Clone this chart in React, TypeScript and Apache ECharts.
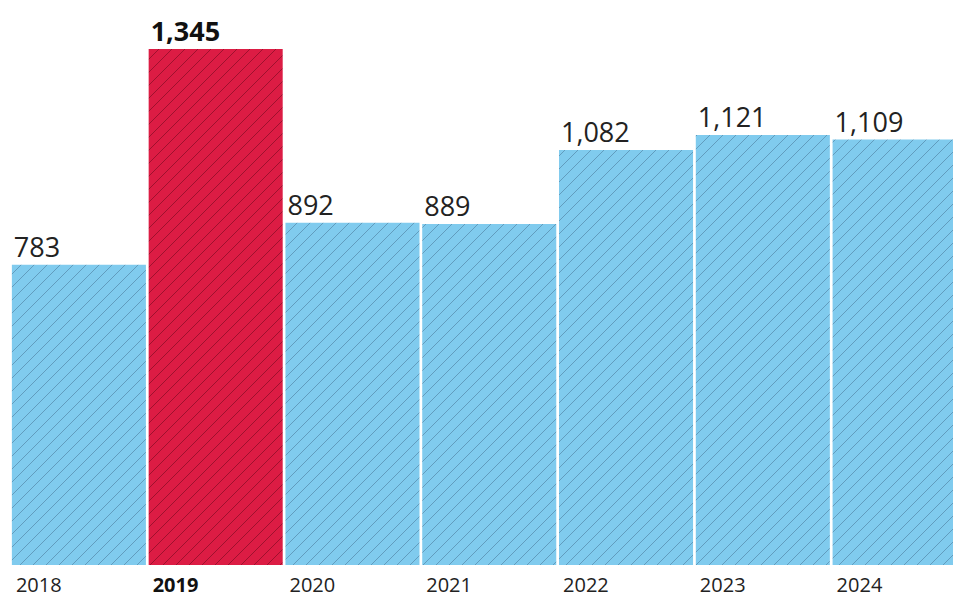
import React, { useEffect, useRef } from "react";
import * as echarts from "echarts";

const categories = ["2018", "2019", "2020", "2021", "2022", "2023", "2024"];
const values = [783, 1345, 892, 889, 1082, 1121, 1109];
const highlightIndex = 1;

function makePattern(base: string, line: string) {
  const s = 13;
  const c = document.createElement("canvas");
  c.width = s;
  c.height = s;
  const ctx = c.getContext("2d")!;
  ctx.fillStyle = base;
  ctx.fillRect(0, 0, s, s);
  ctx.strokeStyle = line;
  ctx.lineWidth = 1;
  ctx.beginPath();
  for (const o of [-s, 0, s]) {
    ctx.moveTo(o - 1, s + 1);
    ctx.lineTo(o + s + 1, -1);
  }
  ctx.stroke();
  return { image: c, repeat: "repeat" as const };
}

export default function App() {
  const ref = useRef<HTMLDivElement>(null);
  useEffect(() => {
    if (!ref.current) return;
    const chart = echarts.init(ref.current, null, { renderer: "svg" });
    const blue = makePattern("#80cbee", "rgba(30,60,90,0.32)");
    const red = makePattern("#dc1c44", "rgba(60,0,10,0.38)");
    const font = "'Open Sans', 'Noto Sans', sans-serif";
    chart.setOption({
      animation: false,
      grid: { left: 10.5, top: 28, right: 2, bottom: 34 },
      xAxis: {
        type: "category",
        data: categories,
        axisLine: { show: false },
        axisTick: { show: false },
        axisLabel: {
          align: "left",
          margin: 9,
          padding: [0, 0, 0, -63],
          fontFamily: font,
          fontSize: 20,
          color: "#222",
          formatter: (v: string, i: number) =>
            i === highlightIndex ? `{b|${v}}` : v,
          rich: {
            b: { fontFamily: font, fontSize: 20, fontWeight: "bold", color: "#111" },
          },
        },
      },
      yAxis: {
        type: "value",
        min: 0,
        max: 1400,
        show: false,
        splitLine: { show: false },
      },
      series: [
        {
          type: "bar",
          barCategoryGap: "2%",
          data: values.map((v, i) => ({
            value: v,
            itemStyle: { color: i === highlightIndex ? red : blue },
            label:
              i === highlightIndex
                ? { fontWeight: "bold", color: "#111" }
                : undefined,
          })),
          label: {
            show: true,
            position: [2, -5],
            align: "left",
            verticalAlign: "bottom",
            fontFamily: font,
            fontSize: 27,
            color: "#222",
            formatter: (p: any) => Number(p.value).toLocaleString("en-US"),
          },
        },
      ],
    });
    return () => chart.dispose();
  }, []);
  return (
    <div
      ref={ref}
      style={{ position: "fixed", left: 0, top: 0, width: 970, height: 599, background: "#fff" }}
    />
  );
}
